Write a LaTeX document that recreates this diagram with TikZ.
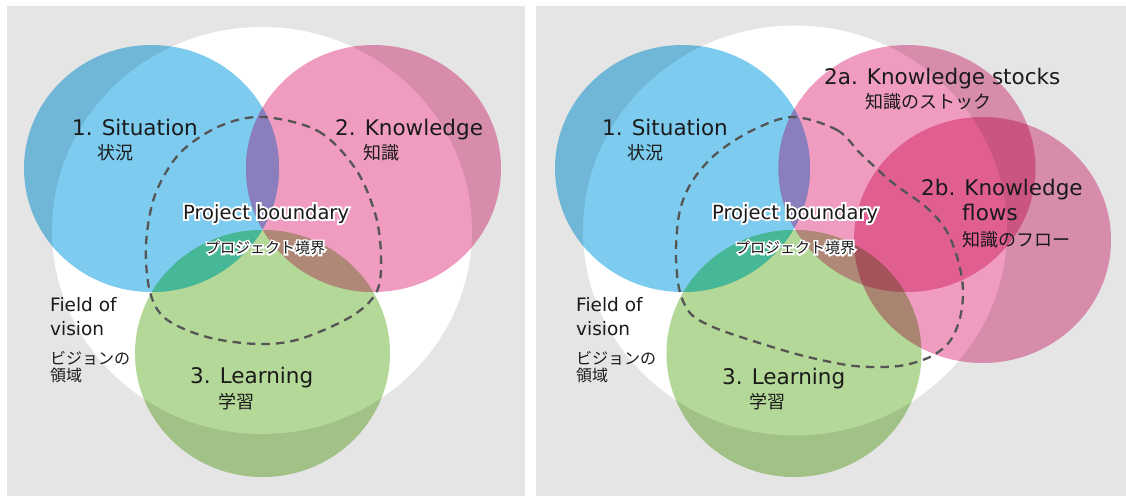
\documentclass[tikz,border=0pt]{standalone}
\usepackage{fontspec}
\setmainfont{DejaVu Sans}
\newfontfamily\jp{Noto Sans CJK JP}
\newfontfamily\haloLat{DejaVu Sans}[FakeBold=20]
\newfontfamily\haloJp{Noto Sans CJK JP}[FakeBold=22]
\usetikzlibrary{calc}
\definecolor{panelC}{RGB}{229,229,229}
\definecolor{blueC}{RGB}{125,204,240}
\definecolor{pinkC}{RGB}{240,156,192}
\definecolor{greenC}{RGB}{180,216,151}
\definecolor{purpleC}{RGB}{138,127,188}
\definecolor{tealC}{RGB}{71,184,151}
\definecolor{brownC}{RGB}{175,136,120}
\definecolor{textC}{RGB}{26,26,26}
\definecolor{dashC}{RGB}{85,85,85}
\tikzset{
  circ/.style={blend mode=multiply},
  lab/.style={anchor=base west, inner sep=0pt, text=textC, font=\fontsize{21.5}{25}\selectfont},
  jlab/.style={anchor=base west, inner sep=0pt, text=textC, font=\jp\fontsize{18}{20}\selectfont},
  flab/.style={anchor=base west, inner sep=0pt, text=textC, font=\fontsize{18.5}{22}\selectfont},
  fjlab/.style={anchor=base west, inner sep=0pt, text=textC, font=\jp\fontsize{16}{18}\selectfont},
  bound/.style={draw=dashC, line width=2.3pt, dash pattern=on 8.5pt off 6pt},
}
% halo text: white emboldened copy under the dark text
\newcommand{\halotext}[6]{%
  \node[anchor=base west, inner sep=0pt, text=white, font=#6] at (#2,#3) {#4};
  \node[anchor=base west, inner sep=0pt, text=textC, font=#5] (#1) at (#2,#3) {#4};}
\begin{document}
\begin{tikzpicture}[x=1pt, y=-1pt]
\useasboundingbox (0,0) rectangle (1126,496);
% panels
\fill[panelC] (7,6) rectangle (525,496);
\fill[panelC] (536,6) rectangle (1126,496);
% ---------------- left panel ----------------
\fill[white] (262,230.5) ellipse [x radius=210pt, y radius=203.5pt];
\fill[blueC, circ] (151.5,168.5) ellipse [x radius=127.5pt, y radius=123.5pt];
\fill[pinkC, circ] (373.5,168.5) ellipse [x radius=127.5pt, y radius=123.5pt];
\begin{scope}
  \clip (151.5,168.5) ellipse [x radius=127.5pt, y radius=123.5pt];
  \fill[purpleC] (373.5,168.5) ellipse [x radius=127.5pt, y radius=123.5pt];
\end{scope}
\fill[greenC, circ] (262.5,353.5) ellipse [x radius=127.5pt, y radius=123.5pt];
\begin{scope}
  \clip (262.5,353.5) ellipse [x radius=127.5pt, y radius=123.5pt];
  \fill[tealC] (151.5,168.5) ellipse [x radius=127.5pt, y radius=123.5pt];
  \fill[brownC] (373.5,168.5) ellipse [x radius=127.5pt, y radius=123.5pt];
\end{scope}
\draw[bound] plot[smooth cycle, tension=0.55] coordinates {
 (263,117) (318,131) (355,168) (375,213) (381,255) (377,291) (352,316)
 (300,339) (258,344) (207,337) (166,319) (150,292) (146,245) (155,195) (180,153) (220,126)};
\node[lab] (sitL) at (72,135) {1. Situation};
\node[jlab] (sitjL) at (97,159.5) {状況};
\node[lab] (knoL) at (335,135) {2. Knowledge};
\node[jlab] (knojL) at (363,159.5) {知識};
\halotext{pbL}{183}{219}{Project boundary}{\fontsize{19.5}{22}\selectfont}{\haloLat\fontsize{19.5}{22}\selectfont}
\halotext{pbjL}{205}{253.5}{プロジェクト境界}{\jp\fontsize{15}{17}\selectfont}{\haloJp\fontsize{15}{17}\selectfont}
\node[flab] (fovL) at (50,311) {Field of};
\node[flab] (fov2L) at (50,335) {vision};
\node[fjlab] (fovjL) at (50,364.5) {ビジョンの};
\node[fjlab] (fovj2L) at (50,381) {領域};
\node[lab] (leaL) at (190,383.5) {3. Learning};
\node[jlab] (leajL) at (218,408.5) {学習};
% ---------------- right panel ----------------
\fill[white] (795,230.5) ellipse [x radius=212pt, y radius=205pt];
\fill[blueC, circ] (682.5,168.5) ellipse [x radius=127.5pt, y radius=123.5pt];
\fill[pinkC, circ] (907,168.5) ellipse [x radius=128.5pt, y radius=123.5pt];
\begin{scope}
  \clip (682.5,168.5) ellipse [x radius=127.5pt, y radius=123.5pt];
  \fill[purpleC] (907,168.5) ellipse [x radius=128.5pt, y radius=123.5pt];
\end{scope}
\fill[greenC, circ] (794,353.5) ellipse [x radius=127.5pt, y radius=123.5pt];
\begin{scope}
  \clip (794,353.5) ellipse [x radius=127.5pt, y radius=123.5pt];
  \fill[tealC] (682.5,168.5) ellipse [x radius=127.5pt, y radius=123.5pt];
  \fill[brownC] (907,168.5) ellipse [x radius=128.5pt, y radius=123.5pt];
\end{scope}
\fill[pinkC, circ] (982.5,240) ellipse [x radius=128.5pt, y radius=123pt];
\draw[bound] plot[smooth cycle, tension=0.55] coordinates {
 (793,117) (837,130) (861,154) (893,183) (926,207) (946,230) (958,260) (963,290)
 (960,318) (950,341) (932,356) (905,365) (878,367) (847,365) (800,355) (750,340)
 (713,327) (690,313) (679,288) (676,250) (680,210) (693,180) (717,153) (753,130)};
\node[lab] (sitR) at (602,135) {1. Situation};
\node[jlab] (sitjR) at (627,159.5) {状況};
\node[lab] (knaR) at (824,84) {2a. Knowledge stocks};
\node[jlab] (knajR) at (865,108.5) {知識のストック};
\node[lab] (knbR) at (921,195) {2b. Knowledge};
\node[lab] (knb2R) at (962,220) {flows};
\node[jlab] (knbjR) at (962,246.5) {知識のフロー};
\halotext{pbR}{712}{219}{Project boundary}{\fontsize{19.5}{22}\selectfont}{\haloLat\fontsize{19.5}{22}\selectfont}
\halotext{pbjR}{735}{253.5}{プロジェクト境界}{\jp\fontsize{15}{17}\selectfont}{\haloJp\fontsize{15}{17}\selectfont}
\node[flab] (fovR) at (576,311) {Field of};
\node[flab] (fov2R) at (576,335) {vision};
\node[fjlab] (fovjR) at (576,364.5) {ビジョンの};
\node[fjlab] (fovj2R) at (576,381) {領域};
\node[lab] (leaR) at (722,384) {3. Learning};
\node[jlab] (leajR) at (749,408.5) {学習};
\end{tikzpicture}
\end{document}
